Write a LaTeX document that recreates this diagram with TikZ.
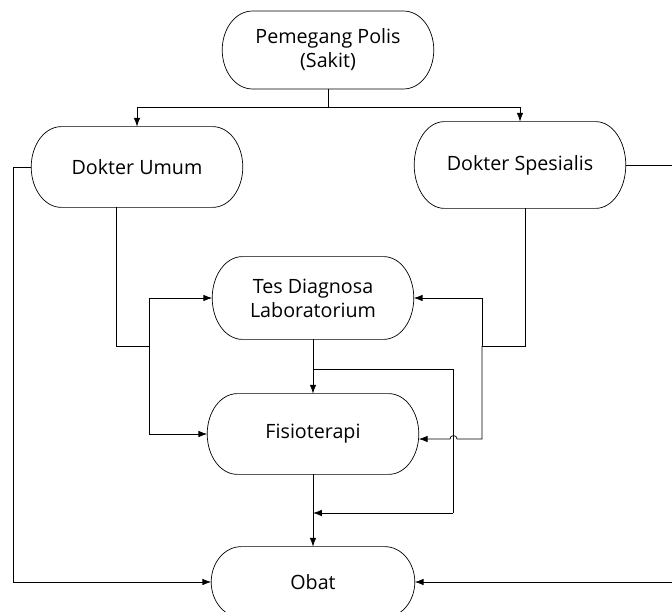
\documentclass[tikz,border=0pt]{standalone}
\usepackage{fontspec}
\setmainfont{Open Sans}
\usepackage{tikz}
\usetikzlibrary{arrows.meta, positioning, calc}

\tikzset{
  proses/.style={rectangle, minimum width=5.27cm, minimum height=2cm, align=center, font=\fontsize{14}{17}\selectfont},
  panah/.style={-{Latex[length=2.2mm,width=1.6mm]}}
}
% bingkai kapsul dengan ujung elips
\newcommand{\kapsul}[1]{%
  \draw let \p1=(#1.north), \p2=(#1.south), \n1={(\y1-\y2)/2} in
    ($(#1.north west)+(0.75cm,0)$) -- ($(#1.north east)+(-0.75cm,0)$)
    arc[start angle=90, end angle=-90, x radius=0.75cm, y radius=\n1]
    -- ($(#1.south west)+(0.75cm,0)$)
    arc[start angle=270, end angle=90, x radius=0.75cm, y radius=\n1] -- cycle;}

\begin{document}
\begin{tikzpicture}[x=0.025cm, y=-0.025cm, line width=0.5pt]
\useasboundingbox (0,0) rectangle (672,612);

\node[proses, minimum height=1.93cm] (polis) at (328,50) {Pemegang Polis\\(Sakit)};
\node[proses] (umum) at (137,167) {Dokter Umum};
\node[proses, minimum height=2.15cm] (spesialis) at (520,165) {Dokter Spesialis};
\node[proses, minimum width=5.02cm, minimum height=2.05cm] (tes) at (313,298) {Tes Diagnosa\\Laboratorium};
\node[proses] (fisio) at (313,434) {Fisioterapi};
\node[proses, minimum width=5.07cm, minimum height=1.75cm] (obat) at (313,582) {Obat};

\foreach \simpul in {polis,umum,spesialis,tes,fisio,obat}
  \kapsul{\simpul};

\coordinate (cabang) at (328,107);
\coordinate (kiriA) at (116,346);
\coordinate (kiriB) at (149,346);
\coordinate (kananA) at (525,346);
\coordinate (kananB) at (482,346);
\coordinate (tengahA) at (313,369);
\coordinate (tengahB) at (453,369);
\coordinate (tengahC) at (453,513);
\coordinate (gabung) at (313,513);
\coordinate (lompat) at (457,439);

% dari pemegang polis ke dokter
\draw (polis.south) -- (cabang);
\draw[panah] (cabang) -| (umum.north);
\draw[panah] (cabang) -| (spesialis.north);

% jalur langsung ke obat
\draw[panah] (umum.west) -- ++(-18,0) |- (obat.west);
\draw[panah] (spesialis.east) -- ++(60,0) |- (obat.east);

% dokter umum ke tes dan fisioterapi
\draw (umum.south -| kiriA) -- (kiriA) -- (kiriB);
\draw[panah] (kiriB) |- (tes.west);
\draw[panah] (kiriB) |- (fisio.west);

% dokter spesialis ke tes dan fisioterapi
\draw (spesialis.south -| kananA) -- (kananA) -- (kananB);
\draw[panah] (kananB) |- (tes.east);
\draw[panah] (kananB) |- (lompat) arc[start angle=0, end angle=180, radius=2.5pt] -- (lompat -| fisio.east);

% tes ke fisioterapi dan obat
\draw[panah] (tes.south) -- (fisio.north);
\draw (tengahA) -- (tengahB) -- (tengahC);
\draw[panah] (tengahC) -- (gabung);
\draw[panah] (fisio.south) -- (obat.north);
\end{tikzpicture}
\end{document}
